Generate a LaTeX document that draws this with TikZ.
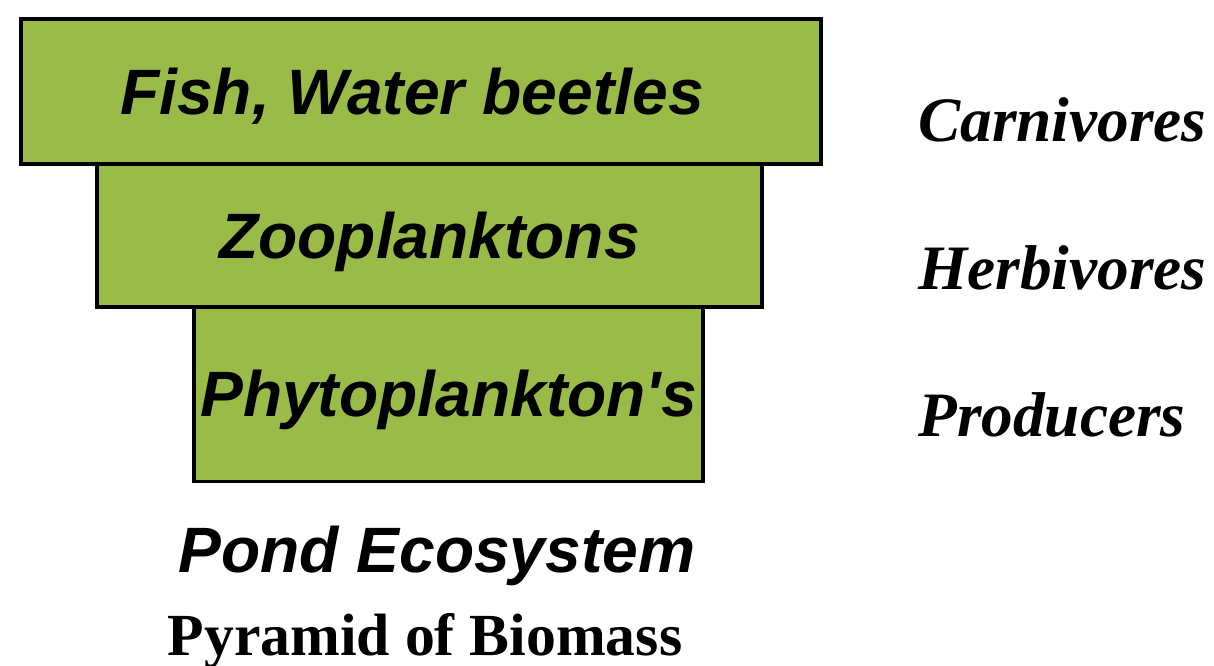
\documentclass[tikz,border=0pt]{standalone}
\usepackage{fontspec}
\newfontfamily\capafont{Liberation Sans}
\newfontfamily\nivelfont{Liberation Serif}
\definecolor{capa}{RGB}{155,187,72}

\begin{document}
\begin{tikzpicture}[
  capabox/.style={draw=black,line width=2pt,fill=capa,inner sep=0pt,
    text height=26pt,text depth=0pt,
    font=\capafont\fontsize{36.5}{40}\selectfont\bfseries\itshape},
  nivel/.style={anchor=base west,inner sep=0pt,
    font=\nivelfont\fontsize{36}{40}\selectfont\bfseries\itshape}]
  \useasboundingbox (0,0) rectangle (24.28,-13.32);
  % capas de la piramide
  \node[capabox,minimum width=10.18cm,minimum height=3.52cm] (phyto) at (8.97,-7.87) {Phytoplankton's};
  \node[capabox,minimum width=13.3cm,minimum height=2.86cm] (zoo) at (8.59,-4.71) {Zooplanktons};
  \node[capabox,minimum width=16cm,minimum height=2.9cm] (fish) at (8.42,-1.83) {\hspace*{-.36cm}Fish, Water beetles};
  % niveles troficos
  \node[nivel] (carn) at (18.36,-2.84) {Carnivores};
  \node[nivel] (herb) at (18.36,-5.80) {Herbivores};
  \node[nivel] (prod) at (18.36,-8.74) {Producers};
  % titulos
  \node[anchor=base,inner sep=0pt,font=\capafont\fontsize{36.5}{40}\selectfont\bfseries\itshape] (pond) at (8.74,-11.44) {Pond Ecosystem};
  \node[anchor=base,inner sep=0pt,font=\nivelfont\fontsize{34}{38}\selectfont\bfseries] (biomass) at (8.5,-13.1) {Pyramid of Biomass};
\end{tikzpicture}
\end{document}
